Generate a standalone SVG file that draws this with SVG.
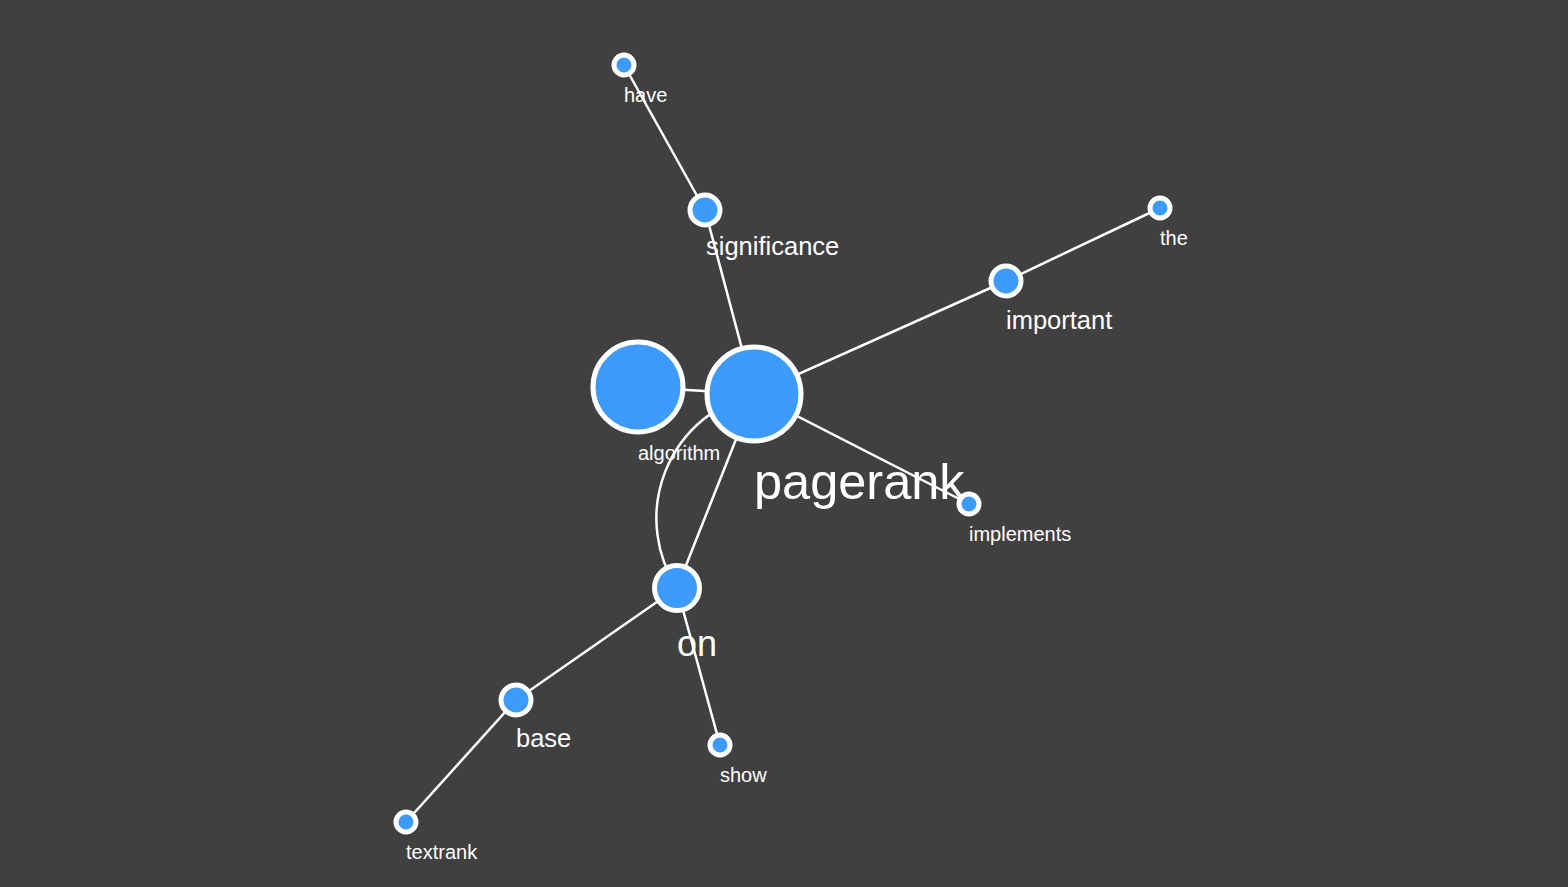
<svg xmlns="http://www.w3.org/2000/svg" width="1568" height="887" viewBox="0 0 1568 887">
<style>
.bg{fill:#404040}
.edge{stroke:#ffffff;stroke-width:2.5;fill:none}
.node{fill:#3d9bfd;stroke:#ffffff;stroke-width:5}
.lbl{fill:#ffffff;font-family:"Liberation Sans",Arial,sans-serif}
.s{font-size:20px}
.m{font-size:25.5px}
</style>
<rect class="bg" x="0" y="0" width="1568" height="887"/>
<g id="connectors">
<line class="edge" x1="624" y1="65" x2="705" y2="210"/>
<line class="edge" x1="705" y1="210" x2="754" y2="394"/>
<line class="edge" x1="754" y1="394" x2="1006" y2="281"/>
<line class="edge" x1="1006" y1="281" x2="1160" y2="208"/>
<line class="edge" x1="638" y1="387" x2="754" y2="394"/>
<line class="edge" x1="754" y1="394" x2="969" y2="504"/>
<line class="edge" x1="754" y1="394" x2="677" y2="588"/>
<path class="edge" d="M677,588 A128,128 0 0,1 754,394"/>
<line class="edge" x1="677" y1="588" x2="516" y2="700"/>
<line class="edge" x1="516" y1="700" x2="406" y2="822"/>
<line class="edge" x1="677" y1="588" x2="720" y2="745"/>
</g>
<g id="node-have"><circle class="node" cx="624" cy="65" r="10"/><text class="lbl s" x="624" y="102">have</text></g>
<g id="node-significance"><circle class="node" cx="705" cy="210" r="15"/><text class="lbl m" x="706" y="255">significance</text></g>
<g id="node-the"><circle class="node" cx="1160" cy="208" r="10"/><text class="lbl s" x="1160" y="245">the</text></g>
<g id="node-important"><circle class="node" cx="1006" cy="281" r="15"/><text class="lbl m" x="1006" y="329">important</text></g>
<g id="node-algorithm"><circle class="node" cx="638" cy="387" r="45"/><text class="lbl s" x="638" y="460">algorithm</text></g>
<g id="node-pagerank"><circle class="node" cx="754" cy="394" r="47"/><text class="lbl" font-size="50.5" x="754" y="499">pagerank</text></g>
<g id="node-implements"><circle class="node" cx="969" cy="504" r="10"/><text class="lbl s" x="969" y="541">implements</text></g>
<g id="node-on"><circle class="node" cx="677" cy="588" r="22.5"/><text class="lbl" font-size="36" x="677" y="656">on</text></g>
<g id="node-base"><circle class="node" cx="516" cy="700" r="15"/><text class="lbl m" x="516" y="747">base</text></g>
<g id="node-show"><circle class="node" cx="720" cy="745" r="10"/><text class="lbl s" x="720" y="782">show</text></g>
<g id="node-textrank"><circle class="node" cx="406" cy="822" r="10"/><text class="lbl s" x="406" y="859">textrank</text></g>
</svg>
